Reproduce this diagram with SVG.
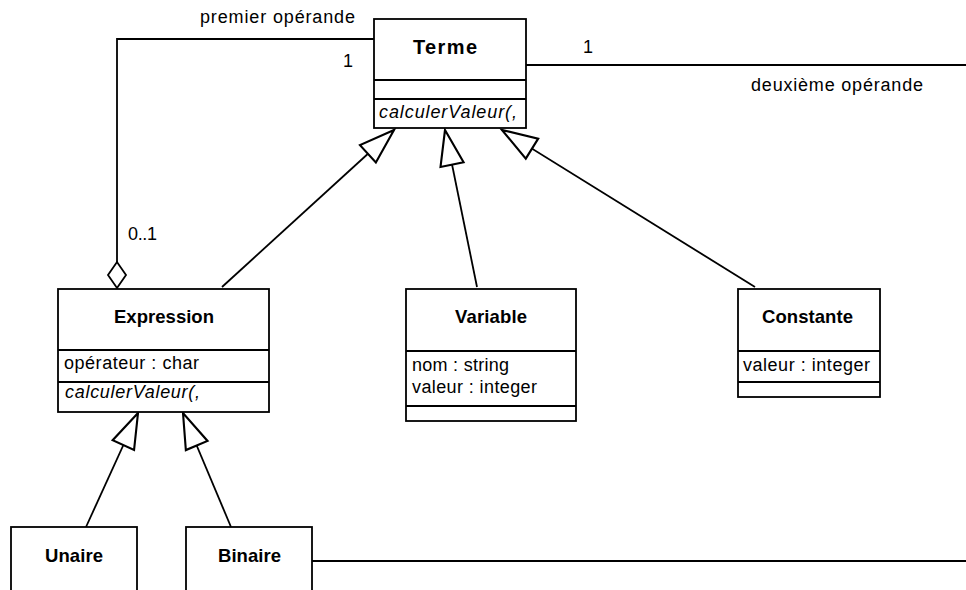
<svg xmlns="http://www.w3.org/2000/svg" width="966" height="590" viewBox="0 0 966 590">
<defs>
<style>
.box{fill:#fff;stroke:#000;stroke-width:1.8}
.ln{fill:none;stroke:#000;stroke-width:1.8}
text{font-family:"Liberation Sans",Arial,sans-serif;font-size:18px;fill:#000}
.b{font-weight:bold;font-size:18.5px}
.i{font-style:italic}
.gen{marker-end:url(#tri)}
</style>
<marker id="tri" markerUnits="userSpaceOnUse" markerWidth="40" markerHeight="30" viewBox="-32 -12 34 24" refX="0" refY="0" orient="auto" overflow="visible">
<path d="M0,0 L-30,-10 L-30,10 Z" fill="#fff" stroke="#000" stroke-width="1.8"/>
</marker>
<marker id="dia" markerUnits="userSpaceOnUse" markerWidth="30" markerHeight="30" viewBox="-28 -11 30 22" refX="0" refY="0" orient="auto" overflow="visible">
<path d="M0,0 L-13,-9 L-26,0 L-13,9 Z" fill="#fff" stroke="#000" stroke-width="1.8"/>
</marker>
</defs>
<rect width="966" height="590" fill="#fff"/>
<g id="connectors">
<path class="ln" d="M374,39 H117 V288" marker-end="url(#dia)"/>
<path class="ln" d="M526,65 H966"/>
<path class="ln" d="M312,561 H966"/>
<path class="ln gen" d="M222,287 L394,130"/>
<path class="ln gen" d="M477,287 L445,130"/>
<path class="ln gen" d="M755,287 L502,130"/>
<path class="ln gen" d="M86,527 L138,413"/>
<path class="ln gen" d="M231,527 L183,413"/>
<text x="200" y="23" textLength="155">premier opérande</text>
<text x="343" y="67">1</text>
<text x="583" y="53">1</text>
<text x="751" y="91" textLength="172">deuxième opérande</text>
<text x="128" y="240" textLength="29">0..1</text>
</g>
<g id="terme">
<rect class="box" x="374" y="19" width="152" height="109"/>
<line class="ln" x1="374" y1="80" x2="526" y2="80"/>
<line class="ln" x1="374" y1="99" x2="526" y2="99"/>
<text class="b" x="413" y="54" textLength="64" style="font-size:20px">Terme</text>
<text class="i" x="379" y="118" textLength="138">calculerValeur(,</text>
</g>
<g id="expression">
<rect class="box" x="58" y="289" width="211" height="123"/>
<line class="ln" x1="58" y1="350" x2="269" y2="350"/>
<line class="ln" x1="58" y1="382" x2="269" y2="382"/>
<text class="b" x="114" y="323" textLength="100">Expression</text>
<text x="64" y="369" textLength="135">opérateur : char</text>
<text class="i" x="65" y="398" textLength="135">calculerValeur(,</text>
</g>
<g id="variable">
<rect class="box" x="406" y="289" width="170" height="132"/>
<line class="ln" x1="406" y1="351" x2="576" y2="351"/>
<line class="ln" x1="406" y1="406" x2="576" y2="406"/>
<text class="b" x="455" y="323" textLength="72">Variable</text>
<text x="412" y="371" textLength="97">nom : string</text>
<text x="412" y="393" textLength="125">valeur : integer</text>
</g>
<g id="constante">
<rect class="box" x="738" y="289" width="142" height="108"/>
<line class="ln" x1="738" y1="351" x2="880" y2="351"/>
<line class="ln" x1="738" y1="382" x2="880" y2="382"/>
<text class="b" x="762" y="323" textLength="91">Constante</text>
<text x="743" y="371" textLength="127">valeur : integer</text>
</g>
<g id="unaire">
<rect class="box" x="11" y="527" width="126" height="80"/>
<text class="b" x="45" y="562" textLength="58">Unaire</text>
</g>
<g id="binaire">
<rect class="box" x="186" y="527" width="126" height="80"/>
<text class="b" x="218" y="562" textLength="63">Binaire</text>
</g>
</svg>
